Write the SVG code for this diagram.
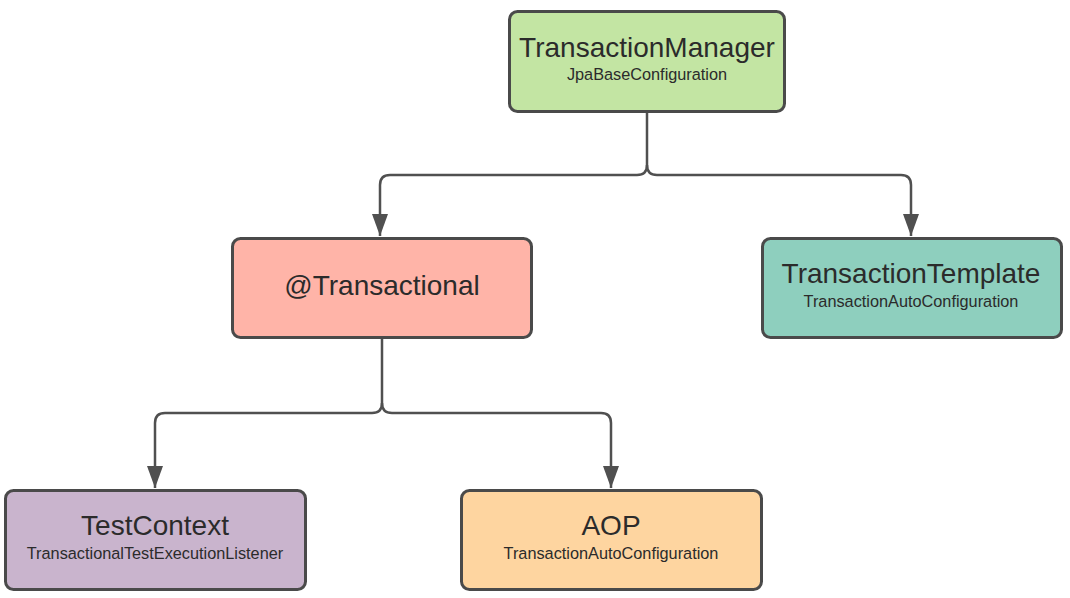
<svg xmlns="http://www.w3.org/2000/svg" width="1070" height="598" viewBox="0 0 1070 598">
<style>
.box{stroke:#4a4a4a;stroke-width:3}
.t{font-family:"Liberation Sans",Arial,sans-serif;font-size:28px;fill:#2b2b2b;text-anchor:middle}
.s{font-family:"Liberation Sans",Arial,sans-serif;font-size:16.3px;fill:#2b2b2b;text-anchor:middle}
.c{fill:none;stroke:#505050;stroke-width:2.5}
</style>
<defs>
<marker id="arr" viewBox="0 0 22 16" refX="22" refY="8" markerWidth="22" markerHeight="16" markerUnits="userSpaceOnUse" orient="auto">
<path d="M0 0 L22 8 L0 16 Z" fill="#505050"/>
</marker>
</defs>
<rect width="1070" height="598" fill="#ffffff"/>
<g id="connectors">
<path class="c" d="M647 112 V165 Q647 175 637 175 H390 Q380 175 380 185 V236" marker-end="url(#arr)"/>
<path class="c" d="M647 165 Q647 175 657 175 H901 Q911 175 911 185 V236" marker-end="url(#arr)"/>
<path class="c" d="M382 339 V403 Q382 413 372 413 H165 Q155 413 155 423 V488" marker-end="url(#arr)"/>
<path class="c" d="M382 403 Q382 413 392 413 H601 Q611 413 611 423 V488" marker-end="url(#arr)"/>
</g>
<g id="transactionManager">
<rect class="box" x="509.5" y="11.5" width="275" height="100" rx="8" fill="#c3e5a3"/>
<text class="t" x="647" y="57">TransactionManager</text>
<text class="s" x="647" y="80">JpaBaseConfiguration</text>
</g>
<g id="transactional">
<rect class="box" x="232.5" y="238.5" width="299" height="99" rx="8" fill="#ffb4a8"/>
<text class="t" x="382" y="295">@Transactional</text>
</g>
<g id="transactionTemplate">
<rect class="box" x="762.5" y="238.5" width="299" height="99" rx="8" fill="#8ecfbe"/>
<text class="t" x="911" y="283">TransactionTemplate</text>
<text class="s" x="911" y="307">TransactionAutoConfiguration</text>
</g>
<g id="testContext">
<rect class="box" x="5.5" y="490.5" width="300" height="99" rx="8" fill="#c9b4cd"/>
<text class="t" x="155" y="535">TestContext</text>
<text class="s" x="155" y="559">TransactionalTestExecutionListener</text>
</g>
<g id="aop">
<rect class="box" x="461.5" y="490.5" width="300" height="99" rx="8" fill="#fed5a0"/>
<text class="t" x="611" y="535">AOP</text>
<text class="s" x="611" y="559">TransactionAutoConfiguration</text>
</g>
</svg>
